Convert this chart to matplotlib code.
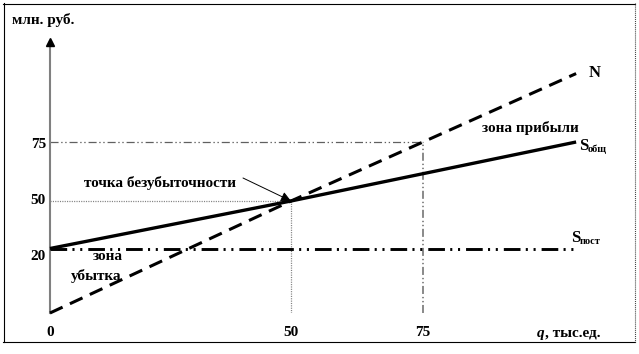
import numpy as np
import matplotlib
matplotlib.use("Agg")
import matplotlib.pyplot as plt
from matplotlib.lines import Line2D
from matplotlib.transforms import Affine2D

plt.rcParams["font.family"] = ["Liberation Serif", "DejaVu Serif"]
plt.rcParams["font.weight"] = "bold"
plt.rcParams["lines.scale_dashes"] = False

# ---------------- data ----------------
q_ticks = [0, 50, 75]                 # q, thousand units
money_ticks = [20, 50, 75]            # mln rub
q_revenue = [0, 50, 75, 104]
revenue_N = [0, 50, 75, 104]
q_total = [0, 50, 104]
cost_total = [20, 50, 75]
q_fixed = [0, 104]
cost_fixed = [20, 20]
breakeven = (50, 50)
check_point = (75, 75)

# ---------------- layout ----------------
W, H, DPI = 639, 354, 100
x_scale_vals = [0, 50, 75]
x_scale_px = [50, 291, 423]
y_scale_vals = [0, 20, 50, 75]
y_scale_py = [313, 248.5, 201, 142]


def piecewise(xp, fp):
    xp = np.asarray(xp, float)
    fp = np.asarray(fp, float)
    lo = (fp[1] - fp[0]) / (xp[1] - xp[0])
    hi = (fp[-1] - fp[-2]) / (xp[-1] - xp[-2])

    def f(v):
        v = np.asarray(v, float)
        out = np.interp(v, xp, fp)
        out = np.where(v < xp[0], fp[0] + (v - xp[0]) * lo, out)
        out = np.where(v > xp[-1], fp[-1] + (v - xp[-1]) * hi, out)
        return out
    return f


fig = plt.figure(figsize=(W / DPI, H / DPI), dpi=DPI)
ax_left, ax_right, ax_bottom, ax_top = 50, 610, 313, 42
ax = fig.add_axes([ax_left / W, (H - ax_bottom) / H,
                   (ax_right - ax_left) / W, (ax_bottom - ax_top) / H])

fx = piecewise(x_scale_vals, x_scale_px)
ix = piecewise(x_scale_px, x_scale_vals)
yh = [H - p for p in y_scale_py]
fy = piecewise(y_scale_vals, yh)
iy = piecewise(yh, y_scale_vals)
ax.set_xscale("function", functions=(fx, ix))
ax.set_yscale("function", functions=(fy, iy))
ax.set_xlim(0, float(ix(ax_right)))
ax.set_ylim(0, float(iy(H - ax_top)))

for s in ["top", "right", "bottom"]:
    ax.spines[s].set_visible(False)
ax.spines["left"].set_color("#808080")
ax.spines["left"].set_linewidth(1.5)
ax.plot([0], [1], marker="^", ms=5.5, color="black", transform=ax.transAxes,
        clip_on=False, zorder=5)

ax.set_yticks([])
ax.set_xticks(q_ticks)
ax.set_xticklabels([str(v) for v in q_ticks], fontsize=11, fontweight="bold")
ax.tick_params(axis="x", length=0, pad=9.5)

# y labels
y_nudge = [-8, 0, -3]
for v, dy in zip(money_ticks, y_nudge):
    ax.annotate(str(v), xy=(0, v), xytext=(-4, dy), textcoords="offset pixels",
                ha="right", va="center", fontsize=11, fontweight="bold")

# guide lines
ax.hlines(breakeven[1], 0, breakeven[0], colors="#808080", lw=0.9,
          linestyles=[(0, (0.8, 0.9))])
ax.vlines(breakeven[0], 0, breakeven[1], colors="#808080", lw=0.9,
          linestyles=[(0, (0.8, 0.9))])
dd = (0, (5.8, 1.9, 1.0, 1.9, 1.0, 2.1))
ax.hlines(check_point[1], 0, check_point[0], colors="#606060", lw=0.9,
          linestyles=[dd])
ax.vlines(check_point[0], 0, check_point[1], colors="#808080", lw=1.3,
          linestyles=[dd])

# main lines
ax.plot(q_revenue, revenue_N, color="black", lw=2.2, linestyle=(0, (10, 5.8)),
        dash_capstyle="butt", clip_on=False, zorder=4)
ax.plot(q_total, cost_total, color="black", lw=2.4, solid_capstyle="butt",
        clip_on=False, zorder=4)
ax.plot(q_fixed, cost_fixed, color="black", lw=2.1,
        linestyle=(0, (12, 3.8, 1.5, 4.1, 1.5, 4.3)), dash_capstyle="butt",
        clip_on=False, zorder=4)

# ---------------- texts (pixel coordinates, top-left origin) ----------------
T = Affine2D().scale(1 / W, -1 / H).translate(0, 1) + fig.transFigure


def put(x, y, s, size=11, ha="center", va="center", **kw):
    fig.text(x, y, s, transform=T, fontsize=size, ha=ha, va=va,
             fontweight="bold", **kw)


put(12, 20, "млн. руб.", ha="left")
put(595, 73, "N", size=12)
put(530, 128, "зона прибыли")
put(579, 146, "S", size=12, ha="left")
put(588, 149, "общ", size=7.5, ha="left")
put(571, 238, "S", size=12, ha="left")
put(580, 241, "пост", size=7.5, ha="left")
put(160, 183, "точка безубыточности")
put(108, 257, "зона")
put(96, 276, "убытка")
put(537, 333, "q", ha="left", style="italic")
put(545, 333, ", тыс.ед.", ha="left")

ax.annotate("", xy=breakeven, xytext=(243, 178), textcoords=T,
            arrowprops=dict(arrowstyle="-|>", color="black", lw=0.7,
                            mutation_scale=15, shrinkA=0, shrinkB=0))

# ---------------- frame ----------------
fl = dict(transform=T, color="black", lw=0.8)
fig.add_artist(Line2D([3, 635], [3.5, 3.5], **fl))
fig.add_artist(Line2D([3.5, 3.5], [3, 342], **fl))
fig.add_artist(Line2D([3, 635], [341.5, 341.5], **fl))
fig.add_artist(Line2D([634.5, 634.5], [3, 342], transform=T, color="#404040",
                      lw=0.8, linestyle=(0, (0.7, 0.7))))

fig.savefig("out.png", dpi=DPI)
